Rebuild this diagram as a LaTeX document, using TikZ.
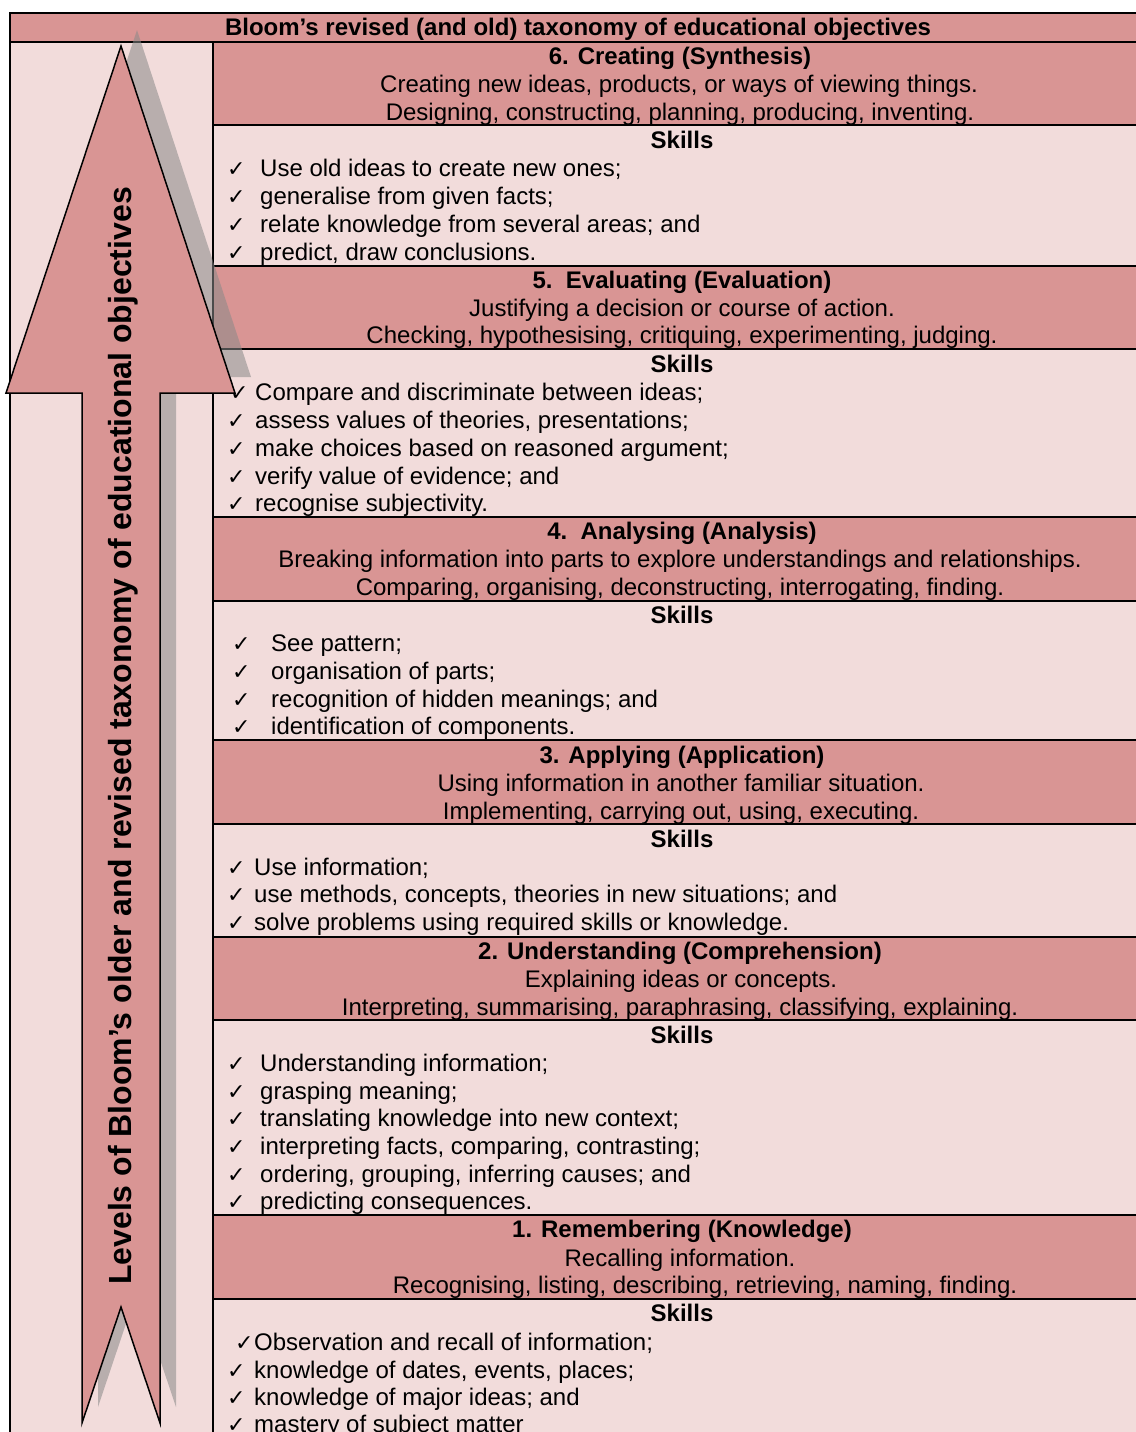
\documentclass[tikz,border=0pt]{standalone}
\usepackage{fontspec}
\setmainfont{Liberation Sans}
\newfontfamily\symfont{DejaVu Sans}
\definecolor{dk}{RGB}{217,149,148}
\definecolor{lt}{RGB}{242,220,219}
\definecolor{shd}{RGB}{137,137,137}
\newcommand{\itm}[5]{\node[ckm] (#1c) at (#2,#4) {✓}; \node[itm] (#1t) at (#3,#4) {#5};}
\begin{document}
\begin{tikzpicture}[x=1pt,y=-1pt,
  cellbox/.style={draw=black, line width=1.2pt, inner sep=0pt, outer sep=0pt, anchor=north west},
  hdr/.style={cellbox, fill=dk},
  skl/.style={cellbox, fill=lt},
  txt/.style={inner sep=0pt, anchor=base, font=\fontsize{24}{28}\selectfont},
  btxt/.style={inner sep=0pt, anchor=base, font=\fontsize{24}{28}\selectfont\bfseries},
  itm/.style={inner sep=0pt, anchor=base west, font=\fontsize{24}{28}\selectfont},
  ckm/.style={inner sep=0pt, anchor=base west, font=\symfont\fontsize{22}{26}\selectfont},
  arrowshape/.style={fill=dk, draw=black, line width=1.5pt, line join=miter},
  arrowshadow/.style={fill=shd, fill opacity=0.55}
]
\useasboundingbox (0,0) rectangle (1135,1432);
\fill[white] (0,0) rectangle (1135,1432);
% table cells
\node[hdr, minimum width=1130pt, minimum height=29pt] (title) at (10,13) {};
\node[skl, minimum width=203pt, minimum height=1400pt] (left) at (10,42) {};
\node[hdr, minimum width=927pt, minimum height=83pt]  (H6) at (213,42) {};
\node[skl, minimum width=927pt, minimum height=141pt] (S6) at (213,125) {};
\node[hdr, minimum width=927pt, minimum height=83pt]  (H5) at (213,266) {};
\node[skl, minimum width=927pt, minimum height=168pt] (S5) at (213,349) {};
\node[hdr, minimum width=927pt, minimum height=84pt]  (H4) at (213,517) {};
\node[skl, minimum width=927pt, minimum height=139pt] (S4) at (213,601) {};
\node[hdr, minimum width=927pt, minimum height=84pt]  (H3) at (213,740) {};
\node[skl, minimum width=927pt, minimum height=113pt] (S3) at (213,824) {};
\node[hdr, minimum width=927pt, minimum height=83pt]  (H2) at (213,937) {};
\node[skl, minimum width=927pt, minimum height=195pt] (S2) at (213,1020) {};
\node[hdr, minimum width=927pt, minimum height=84pt]  (H1) at (213,1215) {};
\node[skl, minimum width=927pt, minimum height=141pt] (S1) at (213,1299) {};
% arrow shadow and arrow
\fill[arrowshadow] (137,30) -- (251,377) -- (176,377) -- (176,1407) -- (137,1291) -- (98,1407) -- (98,377) -- (22,377) -- cycle;
\draw[arrowshape] (121,46) -- (235,393) -- (160,393) -- (160,1423) -- (121,1307) -- (82,1423) -- (82,393) -- (6,393) -- cycle;
\node[inner sep=0pt, rotate=90, font=\fontsize{32}{34}\selectfont\bfseries] (lbl) at (123,736) {Levels of Bloom’s older and revised taxonomy of educational objectives};
% title
\node[btxt] (tt) at (578,35) {Bloom’s revised (and old) taxonomy of educational objectives};
% level 6
\node[btxt] (h6a) at (680,64) {6. Creating (Synthesis)};
\node[txt] (h6b) at (679,92) {Creating new ideas, products, or ways of viewing things.};
\node[txt] (h6c) at (680,120) {Designing, constructing, planning, producing, inventing.};
\node[btxt] (s6) at (682,148) {Skills};
\itm{s6a}{227}{260}{176}{Use old ideas to create new ones;}
\itm{s6b}{227}{260}{204}{generalise from given facts;}
\itm{s6c}{227}{260}{232}{relate knowledge from several areas; and}
\itm{s6d}{227}{260}{260}{predict, draw conclusions.}
% level 5
\node[btxt] (h5a) at (682,288) {5.\ \ Evaluating (Evaluation)};
\node[txt] (h5b) at (682,316) {Justifying a decision or course of action.};
\node[txt] (h5c) at (682,343) {Checking, hypothesising, critiquing, experimenting, judging.};
\node[btxt] (s5) at (682,372) {Skills};
\itm{s5a}{230}{255}{400}{Compare and discriminate between ideas;}
\itm{s5b}{227}{255}{428}{assess values of theories, presentations;}
\itm{s5c}{227}{255}{456}{make choices based on reasoned argument;}
\itm{s5d}{227}{255}{484}{verify value of evidence; and}
\itm{s5e}{227}{255}{511}{recognise subjectivity.}
% level 4
\node[btxt] (h4a) at (682,539) {4.\ \ Analysing (Analysis)};
\node[txt] (h4b) at (680,567) {Breaking information into parts to explore understandings and relationships.};
\node[txt] (h4c) at (680,595) {Comparing, organising, deconstructing, interrogating, finding.};
\node[btxt] (s4) at (682,623) {Skills};
\itm{s4a}{232}{271}{651}{See pattern;}
\itm{s4b}{232}{271}{679}{organisation of parts;}
\itm{s4c}{232}{271}{707}{recognition of hidden meanings; and}
\itm{s4d}{232}{271}{734}{identification of components.}
% level 3
\node[btxt] (h3a) at (682,763) {3. Applying (Application)};
\node[txt] (h3b) at (681,791) {Using information in another familiar situation.};
\node[txt] (h3c) at (681,819) {Implementing, carrying out, using, executing.};
\node[btxt] (s3) at (682,847) {Skills};
\itm{s3a}{227}{254}{875}{Use information;}
\itm{s3b}{227}{254}{902}{use methods, concepts, theories in new situations; and}
\itm{s3c}{227}{254}{930}{solve problems using required skills or knowledge.}
% level 2
\node[btxt] (h2a) at (680,959) {2. Understanding (Comprehension)};
\node[txt] (h2b) at (681,987) {Explaining ideas or concepts.};
\node[txt] (h2c) at (680,1015) {Interpreting, summarising, paraphrasing, classifying, explaining.};
\node[btxt] (s2) at (682,1043) {Skills};
\itm{s2a}{227}{260}{1071}{Understanding information;}
\itm{s2b}{227}{260}{1099}{grasping meaning;}
\itm{s2c}{227}{260}{1126}{translating knowledge into new context;}
\itm{s2d}{227}{260}{1154}{interpreting facts, comparing, contrasting;}
\itm{s2e}{227}{260}{1182}{ordering, grouping, inferring causes; and}
\itm{s2f}{227}{260}{1209}{predicting consequences.}
% level 1
\node[btxt] (h1a) at (682,1237) {1. Remembering (Knowledge)};
\node[txt] (h1b) at (680,1266) {Recalling information.};
\node[txt] (h1c) at (705,1293) {Recognising, listing, describing, retrieving, naming, finding.};
\node[btxt] (s1) at (682,1321) {Skills};
\itm{s1a}{235}{254}{1350}{Observation and recall of information;}
\itm{s1b}{227}{254}{1378}{knowledge of dates, events, places;}
\itm{s1c}{227}{254}{1405}{knowledge of major ideas; and}
\itm{s1d}{227}{254}{1432}{mastery of subject matter}
\end{tikzpicture}
\end{document}
